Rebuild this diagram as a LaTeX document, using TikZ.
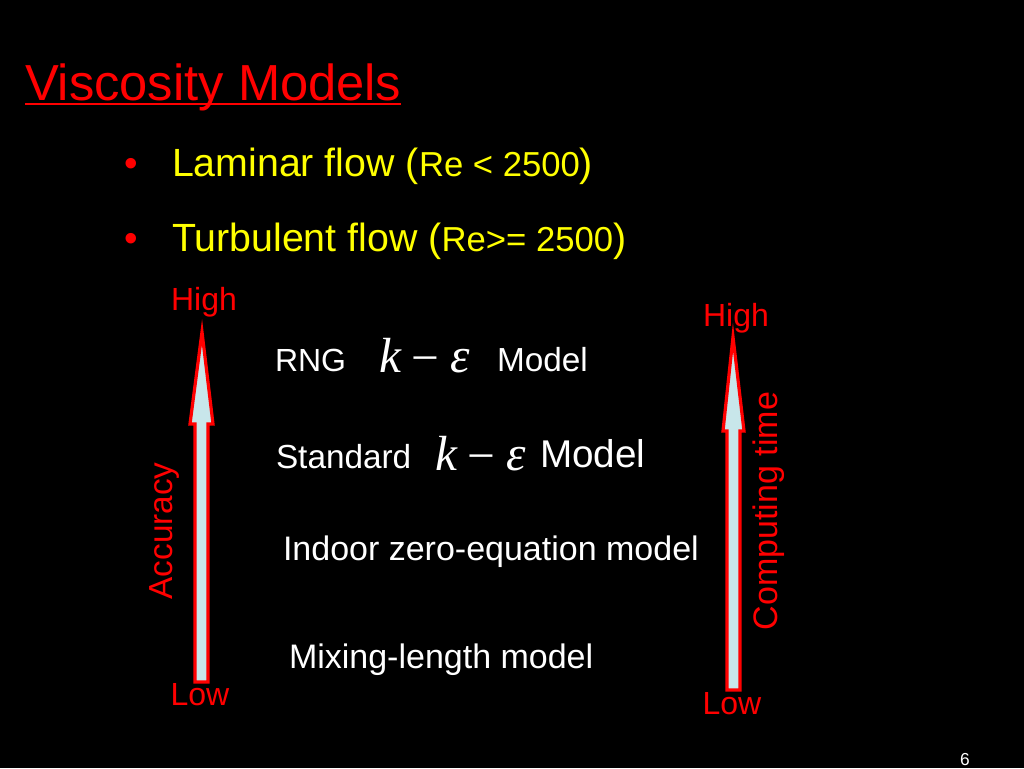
\documentclass[tikz,border=0pt]{standalone}
\usepackage{fontspec}
\usetikzlibrary{calc}
\setmainfont{Liberation Sans}
\newfontfamily\serifit{Liberation Serif}[ItalicFont={Liberation Serif Italic}]
\definecolor{pptred}{RGB}{255,0,0}
\definecolor{pptyellow}{RGB}{255,255,0}
\definecolor{arrowfill}{RGB}{200,230,234}
\begin{document}
\begin{tikzpicture}[x=0.75pt,y=-0.75pt,
  lbl/.style={inner sep=0pt, outer sep=0pt, anchor=base west},
  fsz/.style={font=\fontsize{#1}{#1}\selectfont},
  bigarrow/.style={draw=pptred, line width=2.4pt, fill=arrowfill, line join=miter}]
\fill[black] (0,0) rectangle (1024,768);
\useasboundingbox (0,0) rectangle (1024,768);
% title
\node[lbl, fsz=38pt, text=pptred] (title) at (25,100) {Viscosity Models};
\draw[pptred, line width=1.6pt] ($(title.base west)+(0,4)$) coordinate (ul1) -- ($(title.base east)+(0,4)$) coordinate (ul2);
% bullets
\node[lbl, fsz=29pt, text=pptred] (b1) at (124,176) {•};
\node[lbl, fsz=29.5pt, text=pptyellow] (t1) at (172,176) {Laminar flow (\fontsize{26}{26}\selectfont Re < 2500\fontsize{29.5}{29.5}\selectfont )};
\node[lbl, fsz=29pt, text=pptred] (b2) at (124,251) {•};
\node[lbl, fsz=29.5pt, text=pptyellow] (t2) at (172,251) {Turbulent flow (\fontsize{26}{26}\selectfont Re>= 2500\fontsize{29.5}{29.5}\selectfont )};
% arrows
\draw[bigarrow] (202,332) coordinate (la) -- (213,424) -- (208,424) -- (208,682) -- (195,682) -- (195,424) -- (190,424) -- cycle;
\draw[bigarrow] (733,337) coordinate (ra) -- (744,431) -- (740,431) -- (740,690) -- (727,690) -- (727,431) -- (723,431) -- cycle;
% arrow labels
\node[lbl, anchor=base, fsz=24pt, text=pptred] (hl) at (204,310) {High};
\node[lbl, anchor=base, fsz=24pt, text=pptred] (ll) at (200,705) {Low};
\node[lbl, anchor=base, fsz=24pt, text=pptred] (hr) at (736,326) {High};
\node[lbl, anchor=base, fsz=24pt, text=pptred] (lr) at (732,714) {Low};
\node[lbl, anchor=base, rotate=90, fsz=25pt, text=pptred] (acc) at (172,531) {Accuracy};
\node[lbl, anchor=base, rotate=90, fsz=25.5pt, text=pptred] (ct) at (777,511) {Computing time};
% models
\node[lbl, fsz=24pt, text=white] (rng) at (275,371) {RNG};
\node[lbl, fsz=37pt, text=white] (ke1) at (379,372) {\serifit\itshape k\hspace{0.22em}\upshape\raisebox{-0.06em}{−}\hspace{0.22em}\itshape ε};
\node[lbl, fsz=25pt, text=white] (m1) at (497,371) {Model};
\node[lbl, fsz=25pt, text=white] (std) at (276,468) {Standard};
\node[lbl, fsz=37pt, text=white] (ke2) at (435,470) {\serifit\itshape k\hspace{0.22em}\upshape\raisebox{-0.06em}{−}\hspace{0.22em}\itshape ε};
\node[lbl, fsz=29pt, text=white] (m2) at (540,467) {Model};
\node[lbl, fsz=25.5pt, text=white] (ind) at (283,560) {Indoor zero-equation model};
\node[lbl, fsz=25.5pt, text=white] (mix) at (289,668) {Mixing-length model};
\node[lbl, fsz=13pt, text=white] (pg) at (960,765) {6};
\end{tikzpicture}
\end{document}
